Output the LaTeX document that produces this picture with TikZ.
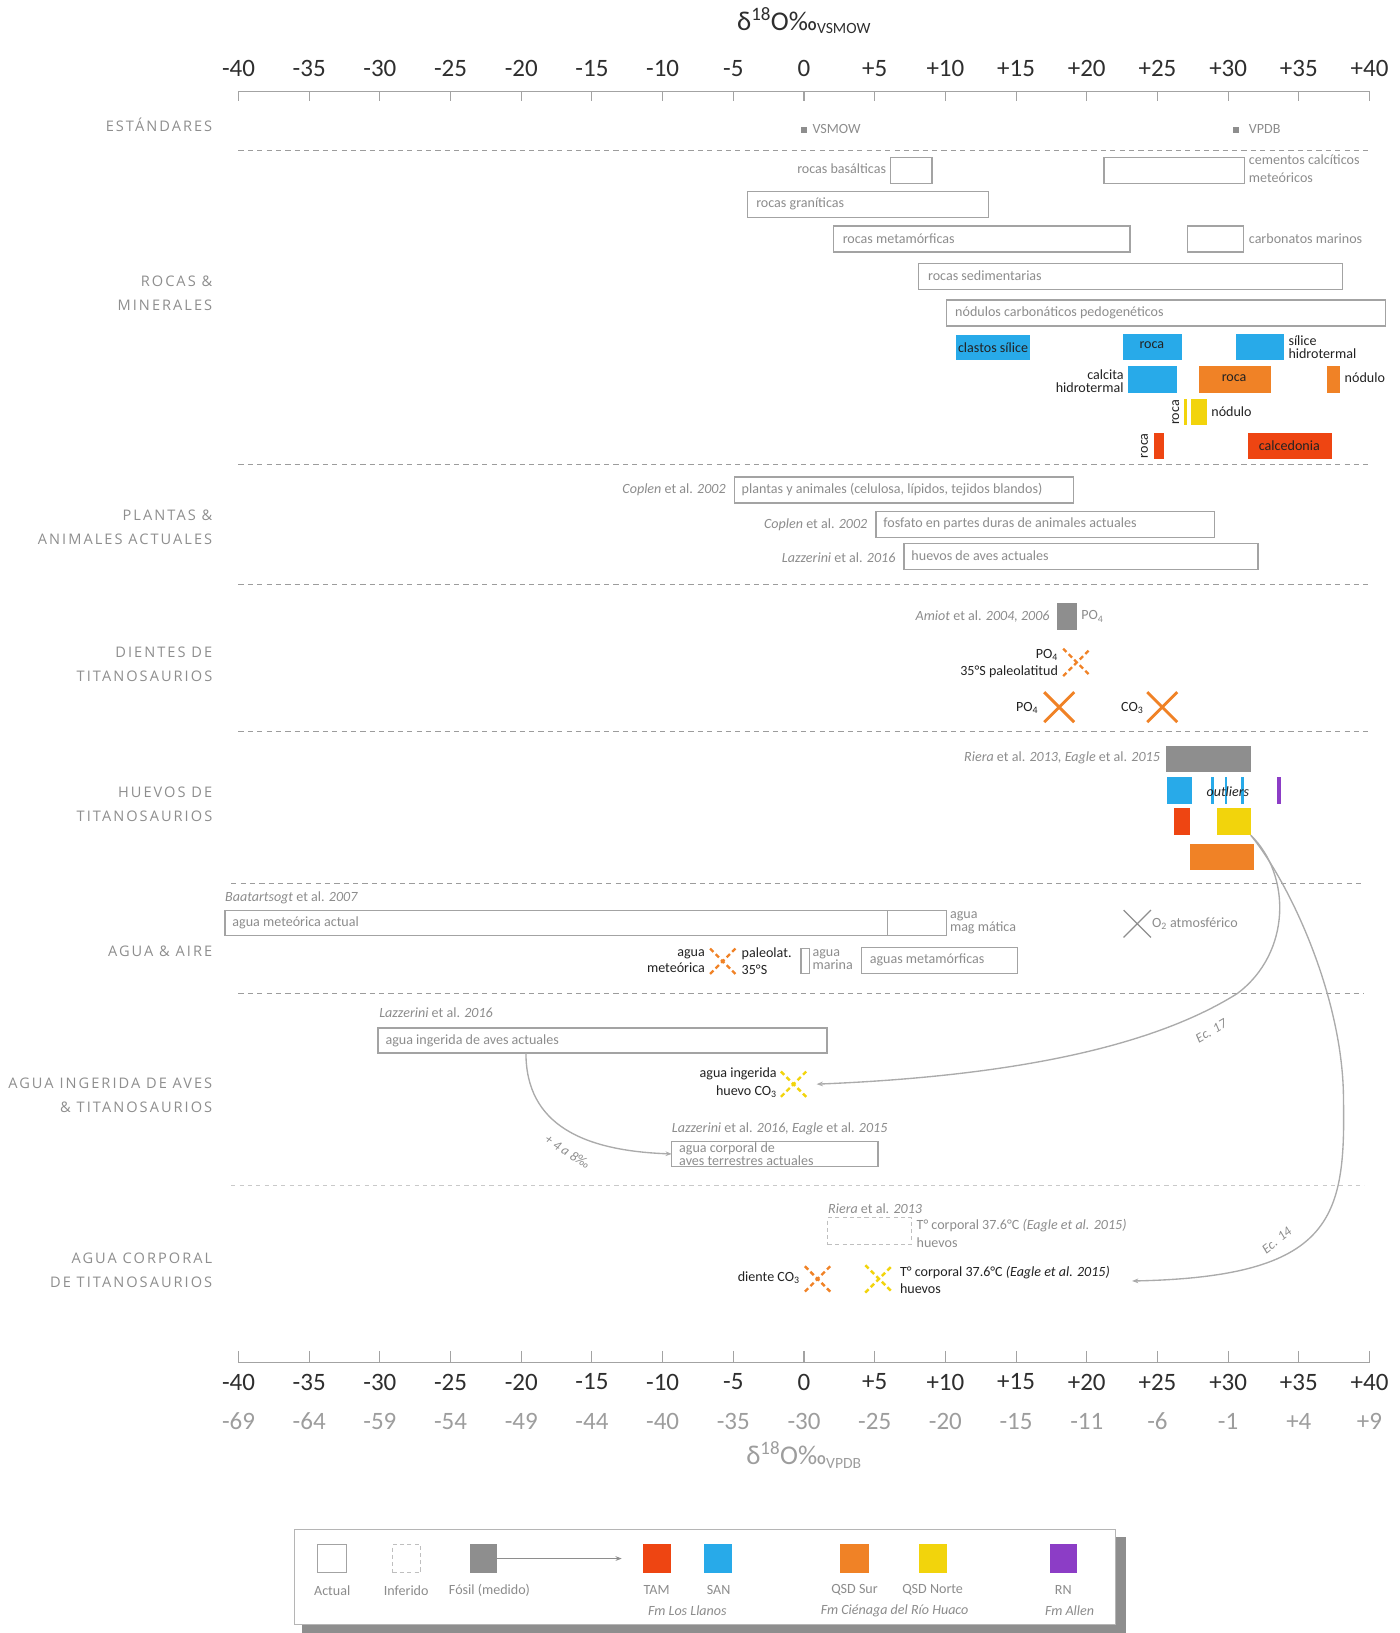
\documentclass[tikz,border=0pt]{standalone}
\usepackage{fontspec}
\setmainfont{Carlito}
\newfontfamily\catfont[LetterSpace=14]{Open Sans}
\usetikzlibrary{fit,shapes.misc,arrows.meta}
\definecolor{boxc}{HTML}{A3A3A3}
\definecolor{txtc}{HTML}{8C8C8C}
\definecolor{darkc}{HTML}{222222}
\definecolor{axc}{HTML}{2E2E2E}
\definecolor{catc}{HTML}{8E8E8E}
\definecolor{sepc}{HTML}{9C9C9C}
\definecolor{cblue}{HTML}{28AAE9}
\definecolor{corange}{HTML}{F08226}
\definecolor{cyellow}{HTML}{F2D40C}
\definecolor{cred}{HTML}{EE4512}
\definecolor{cpurple}{HTML}{8C3DC6}
\definecolor{cfos}{HTML}{8E8E8E}
\definecolor{curvec}{HTML}{ABABAB}
\newcommand\bx[3]{\node[fit={#2},inner sep=0pt,outer sep=0pt,#3] (#1) {};}
\begin{document}
\begin{tikzpicture}[x=1pt,y=-1pt,
  box/.style={draw=boxc,line width=1.2pt},
  dbox/.style={draw=boxc!70,line width=1pt,dash pattern=on 4pt off 3pt},
  fillb/.style={fill=#1,draw=none},
  txt/.style={font=\fontsize{13.5}{15}\selectfont,text=txtc,inner sep=0pt},
  dtxt/.style={font=\fontsize{13.5}{15}\selectfont,text=darkc,inner sep=0pt},
  axnum/.style={font=\fontsize{24}{26}\selectfont,text=axc,inner sep=0pt},
  vpnum/.style={font=\fontsize{24}{26}\selectfont,text=txtc!85,inner sep=0pt},
  cat/.style={font=\catfont\fontsize{14}{23}\selectfont,text=catc,align=right,anchor=east,inner sep=0pt},
  sepl/.style={draw=sepc,line width=0.9pt,dash pattern=on 5pt off 4pt},
  axl/.style={draw=boxc,line width=1pt},
  dx/.style={cross out,draw=#1,line width=2.3pt,dash pattern=on 4.5pt off 3pt,inner sep=0pt},
  sx/.style={cross out,draw=#1,line width=2.8pt,inner sep=0pt},
  conn/.style={draw=curvec,line width=1.3pt,-{Stealth[length=6pt,width=4.5pt]}},
]
\useasboundingbox (0,0) rectangle (1344,1568);

% ---------- top axis ----------
\node[font=\fontsize{26}{28}\selectfont,text=axc,inner sep=0pt] (ttitle) at (772,20) {δ\textsuperscript{18}O‰\textsubscript{\fontsize{15}{16}\selectfont VSMOW}};
\draw[axl] (229,88) -- (1315,88);
\draw[axl] (229,1308) -- (1315,1308);
\foreach \lab/\vp [count=\i from 0] in {-40/-69,-35/-64,-30/-59,-25/-54,-20/-49,-15/-44,-10/-40,-5/-35,0/-30,+5/-25,+10/-20,+15/-15,+20/-11,+25/-6,+30/-1,+35/+4,+40/+9} {
  \pgfmathsetmacro\xx{229+67.875*\i}
  \node[axnum] (ta\i) at (\xx,66) {\lab};
  \draw[axl] (\xx,88) -- (\xx,97);
  \draw[axl] (\xx,1297) -- (\xx,1308);
  \node[axnum] (ba\i) at (\xx,1327) {\lab};
  \node[vpnum] (bv\i) at (\xx,1365) {\vp};
}
\node[font=\fontsize{26}{28}\selectfont,text=txtc!85,inner sep=0pt] (btitle) at (772,1397) {δ\textsuperscript{18}O‰\textsubscript{\fontsize{15}{16}\selectfont VPDB}};

% ---------- separators ----------
\draw[sepl] (229,144) -- (1315,144);
\draw[sepl] (229,446) -- (1315,446);
\draw[sepl] (229,561) -- (1315,561);
\draw[sepl] (229,702) -- (1315,702);
\draw[sepl] (222,848) -- (1310,848);
\draw[sepl] (229,954) -- (1310,954);
\draw[sepl,draw=sepc!55,dash pattern=on 4pt off 4pt] (222,1138) -- (1310,1138);

% ---------- category labels ----------
\node[cat] (c1) at (204,120) {ESTÁNDARES};
\node[cat] (c2) at (204,282) {ROCAS \&\\MINERALES};
\node[cat] (c3) at (204,506) {PLANTAS \&\\ANIMALES ACTUALES};
\node[cat] (c4) at (204,638) {DIENTES DE\\TITANOSAURIOS};
\node[cat] (c5) at (204,772) {HUEVOS DE\\TITANOSAURIOS};
\node[cat] (c6) at (204,913) {AGUA \& AIRE};
\node[cat] (c7) at (204,1052) {AGUA INGERIDA DE AVES\\\& TITANOSAURIOS};
\node[cat] (c8) at (204,1220) {AGUA CORPORAL\\DE TITANOSAURIOS};

% ---------- estándares ----------
\node[fill=cfos,minimum size=6pt,inner sep=0pt] (vsmow) at (772,125) {};
\node[txt,anchor=west] (vsmowt) at (780,124) {VSMOW};
\node[fill=cfos,minimum size=6pt,inner sep=0pt] (vpdb) at (1187,125) {};
\node[txt,anchor=west] (vpdbt) at (1199,124) {VPDB};

% ---------- rocas & minerales ----------
\bx{basal}{(855,151) (895,176)}{box}
\node[txt,anchor=east] (basalt) at (851,162) {rocas basálticas};
\bx{cem}{(1060,151) (1195,176)}{box}
\node[txt,anchor=west,align=left,font=\fontsize{13.5}{17}\selectfont] (cemt) at (1199,162) {cementos calcíticos\\meteóricos};
\bx{gran}{(718,184) (949,209)}{box}
\node[txt,anchor=west] (grant) at (726,196) {rocas graníticas};
\bx{meta}{(800,217) (1085,242)}{box}
\node[txt,anchor=west] (metat) at (809,229) {rocas metamórficas};
\bx{carb}{(1140,217) (1194,242)}{box}
\node[txt,anchor=west] (carbt) at (1199,229) {carbonatos marinos};
\bx{sedi}{(882,253) (1289,278)}{box}
\node[txt,anchor=west] (sedit) at (891,265) {rocas sedimentarias};
\bx{nodp}{(909,288) (1330,313)}{box}
\node[txt,anchor=west] (nodpt) at (917,300) {nódulos carbonáticos pedogenéticos};

\bx{clas}{(918,322) (989,346)}{fillb=cblue}
\node[dtxt] (clast) at (953.5,334) {clastos sílice};
\bx{rocab}{(1078,321) (1135,346)}{fillb=cblue}
\node[dtxt] (rocabt) at (1106,331) {roca};
\bx{silh}{(1187,321) (1233,346)}{fillb=cblue}
\node[dtxt,anchor=west,align=left,font=\fontsize{13.5}{12.5}\selectfont] (silht) at (1237,333) {sílice\\hidrotermal};
\bx{calh}{(1083,351) (1130,377)}{fillb=cblue}
\node[dtxt,anchor=east,align=right,font=\fontsize{13.5}{12.5}\selectfont] (calht) at (1079,366) {calcita\\hidrotermal};
\bx{rocao}{(1151,351) (1220,377)}{fillb=corange}
\node[dtxt] (rocaot) at (1185,363) {roca};
\bx{nodo}{(1274,351) (1287,377)}{fillb=corange}
\node[dtxt,anchor=west] (nodot) at (1291,363) {nódulo};
\bx{rocay}{(1137,383) (1140,408)}{fillb=cyellow}
\node[dtxt,rotate=90] (rocayt) at (1129,396) {roca};
\bx{nody}{(1144,383) (1159,408)}{fillb=cyellow}
\node[dtxt,anchor=west] (nodyt) at (1163,395) {nódulo};
\bx{rocar}{(1108,416) (1118,441)}{fillb=cred}
\node[dtxt,rotate=90] (rocart) at (1099,428) {roca};
\bx{calc}{(1198,416) (1279,441)}{fillb=cred}
\node[dtxt] (calct) at (1238,428) {calcedonia};

% ---------- plantas & animales ----------
\node[txt,anchor=east] (cop1) at (697,470) {\textit{Coplen} et al. \textit{2002}};
\bx{plan}{(705,458) (1031,483)}{box}
\node[txt,anchor=west] (plant) at (712,470) {plantas y animales (celulosa, lípidos, tejidos blandos)};
\node[txt,anchor=east] (cop2) at (833,504) {\textit{Coplen} et al. \textit{2002}};
\bx{fosf}{(841,491) (1166,516)}{box}
\node[txt,anchor=west] (fosft) at (848,503) {fosfato en partes duras de animales actuales};
\node[txt,anchor=east] (laz1) at (860,535) {\textit{Lazzerini} et al. \textit{2016}};
\bx{huav}{(868,522) (1208,547)}{box}
\node[txt,anchor=west] (huavt) at (875,534) {huevos de aves actuales};

% ---------- dientes ----------
\node[txt,anchor=east] (amiot) at (1008,592) {\textit{Amiot} et al. \textit{2004, 2006}};
\bx{amb}{(1015,579) (1034,605)}{fillb=cfos}
\node[txt,anchor=west] (ampo) at (1038,592) {PO\textsubscript{4}};
\node[dx=corange,minimum size=24pt] (dx1) at (1034,636) {};
\node[dtxt,anchor=east,align=right,font=\fontsize{13.5}{16}\selectfont] (dx1t) at (1016,637) {PO\textsubscript{4}\\35°S paleolatitud};
\node[sx=corange,minimum size=26pt] (sx1) at (1017,679) {};
\node[dtxt,anchor=east] (sx1t) at (997,680) {PO\textsubscript{4}};
\node[sx=corange,minimum size=26pt] (sx2) at (1116,679) {};
\node[dtxt,anchor=east] (sx2t) at (1098,680) {CO\textsubscript{3}};

% ---------- huevos ----------
\node[txt,anchor=east] (riera1) at (1114,728) {\textit{Riera} et al. \textit{2013, Eagle} et al. \textit{2015}};
\bx{hfos}{(1120,716) (1201,741)}{fillb=cfos}
\bx{hsan}{(1121,746) (1145,772)}{fillb=cblue}
\bx{out1}{(1163,746) (1165.5,772)}{fillb=cblue}
\bx{out2}{(1176,746) (1178.5,772)}{fillb=cblue}
\bx{out3}{(1192,746) (1194.5,772)}{fillb=cblue}
\node[dtxt,font=\itshape\fontsize{13.5}{15}\selectfont] (outt) at (1179,760) {outliers};
\bx{hrn}{(1226,746) (1230,772)}{fillb=cpurple}
\bx{htam}{(1127,776) (1143,802)}{fillb=cred}
\bx{hqn}{(1169,776) (1201,802)}{fillb=cyellow}
\bx{hqs}{(1143,810) (1204,835)}{fillb=corange}

% ---------- agua & aire ----------
\node[txt,anchor=west] (baat) at (216,862) {\textit{Baatartsogt} et al. \textit{2007}};
\bx{amet}{(216,874) (852,898)}{box}
\node[txt,anchor=west] (amett) at (223,886) {agua meteórica actual};
\bx{amag}{(852,874) (909,898)}{box}
\node[txt,anchor=west,align=left,font=\fontsize{13.5}{12.5}\selectfont] (amagt) at (912,886) {agua\\mag mática};
\node[cross out,draw=cfos,line width=1.2pt,minimum size=25pt,inner sep=0pt] (o2) at (1092,887) {};
\node[txt,anchor=west] (o2t) at (1106,887) {O\textsubscript{2} atmosférico};
\node[dx=corange,minimum size=22pt] (dx2) at (694,923) {};
\node[dtxt,anchor=east,align=right,font=\fontsize{13.5}{16}\selectfont] (dx2l) at (677,923) {agua\\meteórica};
\node[dtxt,anchor=west,align=left,font=\fontsize{13.5}{16}\selectfont] (dx2r) at (712,923) {paleolat.\\35°S};
\bx{amar}{(769,911) (777,935)}{box}
\node[txt,anchor=west,align=left,font=\fontsize{13.5}{12.5}\selectfont] (amart) at (780,921) {agua\\marina};
\bx{ametm}{(827,910) (977,935)}{box}
\node[txt,anchor=west] (ametmt) at (835,922) {aguas metamórficas};

% ---------- agua ingerida ----------
\node[txt,anchor=west] (laz2) at (364,972) {\textit{Lazzerini} et al. \textit{2016}};
\bx{aing}{(363,987) (794,1011)}{box}
\node[txt,anchor=west] (aingt) at (370,999) {agua ingerida de aves actuales};
\node[dx=cyellow,minimum size=22pt] (dx3) at (762,1041) {};
\node[dtxt,anchor=east,align=right,font=\fontsize{13.5}{17}\selectfont] (dx3t) at (746,1040) {agua ingerida\\huevo CO\textsubscript{3}};
\node[txt,anchor=west] (laz3) at (645,1084) {\textit{Lazzerini} et al. \textit{2016, Eagle} et al. \textit{2015}};
\bx{acor}{(645,1096) (843,1120)}{box}
\node[txt,anchor=west,align=left,font=\fontsize{13.5}{11.5}\selectfont] (acort) at (652,1108) {agua corporal de\\aves terrestres actuales};

% ---------- agua corporal ----------
\node[txt,anchor=west] (riera2) at (795,1161) {\textit{Riera} et al. \textit{2013}};
\bx{inf}{(795,1169) (875,1195)}{dbox}
\node[txt,anchor=west,align=left,font=\fontsize{13.5}{17}\selectfont] (inft) at (880,1184) {T° corporal 37.6°C \textit{(Eagle et al. 2015)}\\huevos};
\node[dtxt,anchor=east] (dient) at (768,1227) {diente CO\textsubscript{3}};
\node[dx=corange,minimum size=22pt] (dx4) at (785,1228) {};
\node[dx=cyellow,minimum size=24pt] (dx5) at (844,1228) {};
\node[dtxt,anchor=west,align=left,font=\fontsize{13.5}{17}\selectfont] (dx5t) at (864,1229) {T° corporal 37.6°C \textit{(Eagle et al. 2015)}\\huevos};

% ---------- connectors ----------
\draw[conn] (aing.south -| 505,0) .. controls (505,1080) and (560,1105) .. (acor.west);
\node[txt,rotate=-33,font=\itshape\fontsize{13}{14}\selectfont] (lab48) at (545,1106) {+ 4 a 8‰};
\draw[conn] (hqn.south east) .. controls (1240,840) and (1240,915) .. (1188,954)
   .. controls (1110,1003) and (980,1033) .. ([xshift=10pt]dx3.east);
\node[txt,rotate=30,font=\itshape\fontsize{13}{14}\selectfont] (ec17) at (1163,990) {Ec. 17};
\draw[conn] (hqn.south east) .. controls (1240,850) and (1290,960) .. (1290,1056)
   .. controls (1292,1170) and (1280,1226) .. ([xshift=10pt]1077,1230);
\node[txt,rotate=38,font=\itshape\fontsize{13}{14}\selectfont] (ec14) at (1226,1191) {Ec. 14};

% ---------- legend ----------
\fill[cfos] (290,1476) rectangle (1081,1568);
\bx{leg}{(283,1469) (1071,1560)}{draw=boxc!80,line width=1pt,fill=white}
\bx{lact}{(305,1483) (333,1510)}{box}
\node[txt] (lactt) at (319,1527) {Actual};
\bx{linf}{(377,1483) (404,1510)}{dbox}
\node[txt] (linft) at (390,1527) {Inferido};
\bx{lfos}{(451,1483) (477,1510)}{fillb=cfos}
\node[txt] (lfost) at (470,1527) {Fósil (medido)};
\coordinate (larr) at (597,1496.5);
\draw[draw=cfos,line width=1pt,-{Stealth[length=6pt,width=4.5pt]}] (lfos.east) -- (larr);
\bx{ltam}{(617,1483) (644,1510)}{fillb=cred}
\node[txt] (ltamt) at (630.5,1527) {TAM};
\bx{lsan}{(676,1483) (703,1510)}{fillb=cblue}
\node[txt] (lsant) at (690,1527) {SAN};
\node[txt,font=\itshape\fontsize{13.5}{15}\selectfont] (fm1) at (660,1547) {Fm Los Llanos};
\bx{lqs}{(807,1483) (834,1510)}{fillb=corange}
\node[txt] (lqst) at (820.5,1527) {QSD Sur};
\bx{lqn}{(882,1483) (909,1510)}{fillb=cyellow}
\node[txt] (lqnt) at (895.5,1527) {QSD Norte};
\node[txt,font=\itshape\fontsize{13.5}{15}\selectfont] (fm2) at (859,1547) {Fm Ciénaga del Río Huaco};
\bx{lrn}{(1008,1483) (1034,1510)}{fillb=cpurple}
\node[txt] (lrnt) at (1021,1527) {RN};
\node[txt,font=\itshape\fontsize{13.5}{15}\selectfont] (fm3) at (1027,1547) {Fm Allen};
\end{tikzpicture}
\end{document}
